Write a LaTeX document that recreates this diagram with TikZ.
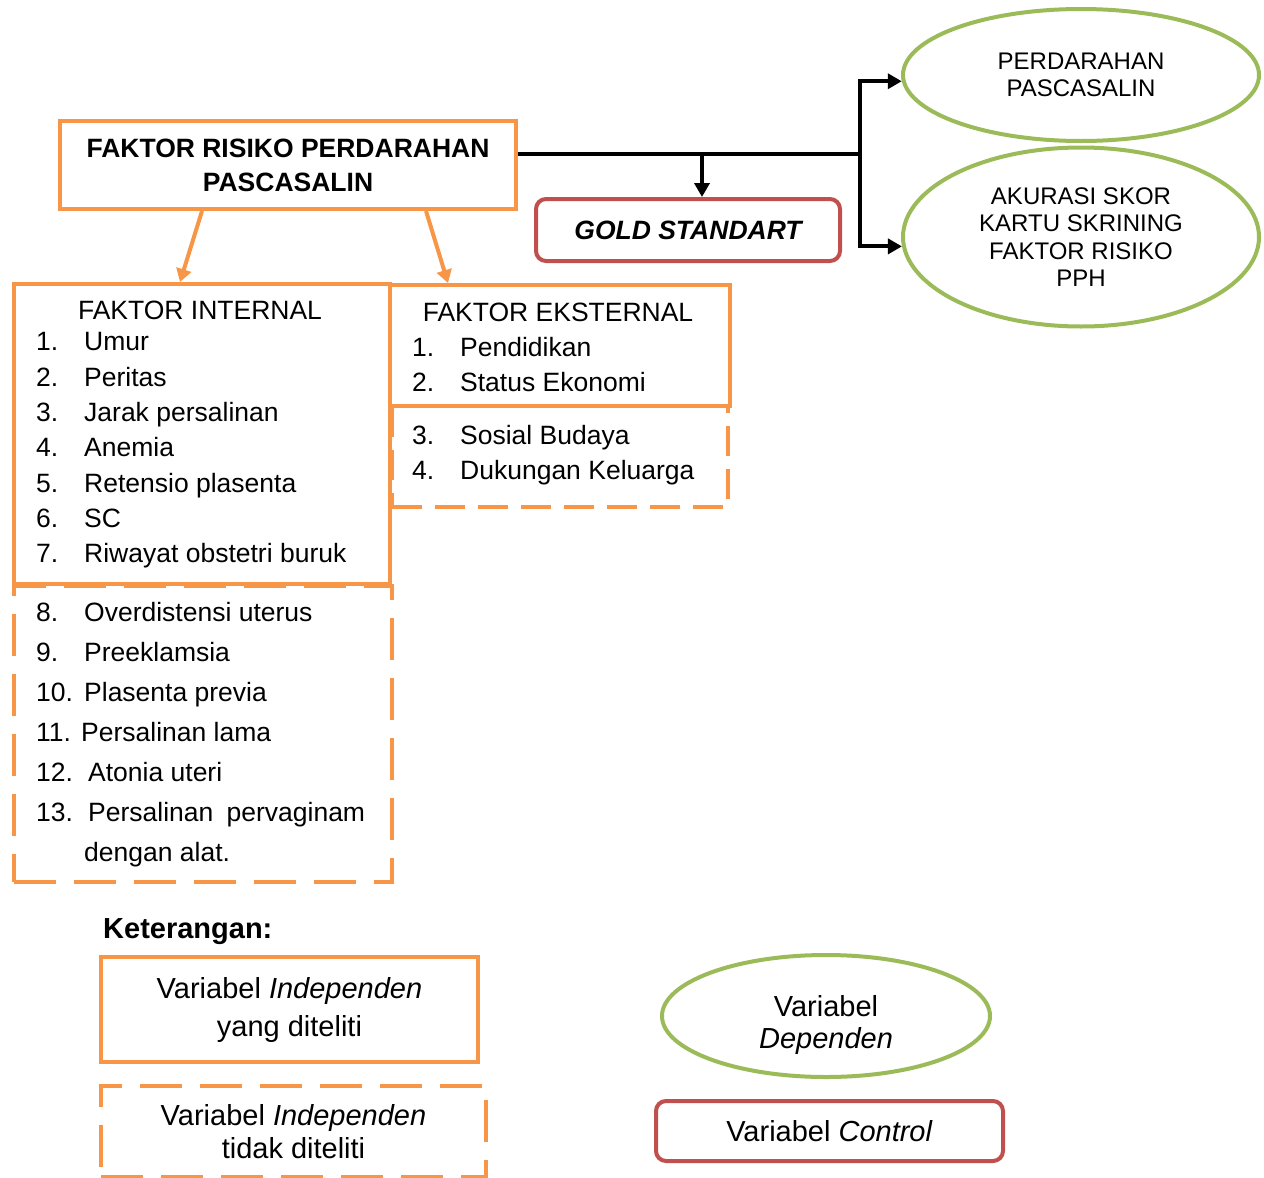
\documentclass[tikz,border=0pt]{standalone}
\usepackage{fontspec}
\setmainfont{Liberation Sans}
\usepackage{xcolor}
\usepackage{tikz}
\usetikzlibrary{shapes.geometric}
\usetikzlibrary{arrows.meta}
\usetikzlibrary{positioning}

\definecolor{faktororange}{RGB}{247,150,70}
\definecolor{depgreen}{RGB}{155,187,89}
\definecolor{ctrlred}{RGB}{192,80,77}

\begin{document}
\begin{tikzpicture}[
		x=1pt,
		y=-1pt,
		font=\fontsize{26.5pt}{32pt}\selectfont,
		>={Triangle[length=14pt,width=15pt]},
	]
		\tikzset{solidbox/.style={
			draw=faktororange,
			line width=4pt,
			rectangle,
			inner sep=0,
			anchor=north west,
		}}
		\tikzset{dashbox/.style={
			solidbox,
			dash pattern=on 42pt off 18pt,
		}}
		\tikzset{shortdashbox/.style={
			solidbox,
			dash pattern=on 30pt off 13pt,
		}}
		\tikzset{redbox/.style={
			draw=ctrlred,
			line width=4pt,
			rectangle,
			rounded corners=10pt,
			inner sep=0,
		}}
		\tikzset{depellipse/.style={
			draw=depgreen,
			line width=4pt,
			ellipse,
			inner sep=0,
			align=center,
		}}
		\tikzset{listitem/.style={
			anchor=base west,
			inner sep=0,
		}}
		\tikzset{conn/.style={
			draw=black,
			line width=4pt,
		}}
		\tikzset{orangearrow/.style={
			draw=faktororange,
			line width=4pt,
			-{Triangle[length=13pt,width=15pt]},
		}}

		\useasboundingbox (0,0) rectangle (1264,1178);

		%---------------------------------
		% Faktor risiko
		\node[
			solidbox,
			anchor=center,
			minimum width=456,
			minimum height=88,
			align=center,
			font=\fontsize{26.5pt}{34pt}\selectfont\bfseries,
		] (risiko) at (288,165) {FAKTOR RISIKO PERDARAHAN\\PASCASALIN};

		\node[
			redbox,
			minimum width=304,
			minimum height=62,
			font=\fontsize{26.5pt}{32pt}\selectfont\bfseries\itshape,
		] (gold) at (688,230) {GOLD STANDART};

		%---------------------------------
		% Dependen
		\node[
			depellipse,
			minimum width=356,
			minimum height=132,
			font=\fontsize{24pt}{27.5pt}\selectfont,
		] (perdarahan) at (1081,75) {PERDARAHAN\\PASCASALIN};
		\node[
			depellipse,
			minimum width=356,
			minimum height=179,
			font=\fontsize{24pt}{27.5pt}\selectfont,
		] (akurasi) at (1081,237) {AKURASI SKOR\\KARTU SKRINING\\FAKTOR RISIKO\\PPH};

		\coordinate (junction) at (860,154);
		\coordinate (goldtap) at (702,154);

		\draw[conn] (risiko.east |- junction) -- (junction);
		\draw[conn,->] (goldtap) -- (goldtap |- gold.north);
		\draw[conn,->] (junction) |- (perdarahan.182);
		\draw[conn,->] (junction) |- (akurasi.183);

		%---------------------------------
		% Faktor internal
		\node[
			dashbox,
			minimum width=378,
			minimum height=296,
		] (internaldash) at (12,584) {};
		\node[
			solidbox,
			minimum width=376,
			minimum height=300,
		] (internal) at (12,282) {};

		\node[anchor=base] (internaltitle) at (200,319) {FAKTOR INTERNAL};
		\node[listitem] (int1) at (36,350) {\makebox[48pt][l]{1.}Umur};
		\node[listitem] (int2) at (36,386) {\makebox[48pt][l]{2.}Peritas};
		\node[listitem] (int3) at (36,421) {\makebox[48pt][l]{3.}Jarak persalinan};
		\node[listitem] (int4) at (36,456) {\makebox[48pt][l]{4.}Anemia};
		\node[listitem] (int5) at (36,492) {\makebox[48pt][l]{5.}Retensio plasenta};
		\node[listitem] (int6) at (36,527) {\makebox[48pt][l]{6.}SC};
		\node[listitem] (int7) at (36,562) {\makebox[48pt][l]{7.}Riwayat obstetri buruk};

		\node[listitem] (int8) at (36,621) {\makebox[48pt][l]{8.}Overdistensi uterus};
		\node[listitem] (int9) at (36,661) {\makebox[48pt][l]{9.}Preeklamsia};
		\node[listitem] (int10) at (36,701) {\makebox[48pt][l]{10.}Plasenta previa};
		\node[listitem] (int11) at (36,741) {\makebox[45pt][l]{11.}Persalinan lama};
		\node[listitem] (int12) at (36,781) {\makebox[52pt][l]{12.}Atonia uteri};
		\node[listitem] (int13) at (36,821) {\makebox[52pt][l]{13.}Persalinan\hspace{0.5em}pervaginam};
		\node[listitem] (int13b) at (84,861) {dengan alat.};

		%---------------------------------
		% Faktor eksternal
		\node[
			shortdashbox,
			minimum width=336,
			minimum height=101,
		] (externaldash) at (390,404) {};
		\node[
			solidbox,
			minimum width=340,
			minimum height=121,
		] (external) at (388,283) {};

		\node[anchor=base] (externaltitle) at (558,321) {FAKTOR EKSTERNAL};
		\node[listitem] (ext1) at (412,356) {\makebox[48pt][l]{1.}Pendidikan};
		\node[listitem] (ext2) at (412,391) {\makebox[48pt][l]{2.}Status Ekonomi};
		\node[listitem] (ext3) at (412,444) {\makebox[48pt][l]{3.}Sosial Budaya};
		\node[listitem] (ext4) at (412,479) {\makebox[48pt][l]{4.}Dukungan Keluarga};

		\draw[orangearrow] ([xshift=144]risiko.south west) -- ([xshift=168]internal.north west);
		\draw[orangearrow] ([xshift=368]risiko.south west) -- ([xshift=60]external.north west);

		%---------------------------------
		% Keterangan
		\node[
			listitem,
			font=\fontsize{29pt}{35pt}\selectfont\bfseries,
		] (keterangan) at (103,938) {Keterangan:};

		\node[
			solidbox,
			anchor=center,
			minimum width=377,
			minimum height=105,
			align=center,
			font=\fontsize{29pt}{38pt}\selectfont,
		] (legsolid) at (289.5,1009.5) {Variabel \textit{Independen}\\yang diteliti};
		\node[
			dashbox,
			anchor=center,
			minimum width=385,
			minimum height=91,
			align=center,
			font=\fontsize{29pt}{33pt}\selectfont,
		] (legdash) at (293.5,1131.5) {Variabel \textit{Independen}\\tidak diteliti};

		\node[
			depellipse,
			minimum width=328,
			minimum height=122,
			font=\fontsize{29pt}{32pt}\selectfont,
		] (legdep) at (826,1016) {\rule{0pt}{38pt}Variabel\\\textit{Dependen}};
		\node[
			redbox,
			minimum width=347,
			minimum height=60,
			font=\fontsize{29pt}{32pt}\selectfont,
		] (legctrl) at (829.5,1131) {Variabel \textit{Control}};
	\end{tikzpicture}
\end{document}
